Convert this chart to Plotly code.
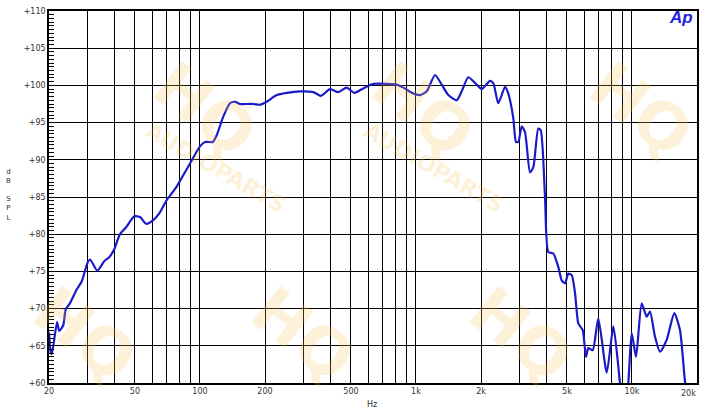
import math
import plotly.graph_objects as go

# ---- data (frequency in Hz, level in dB SPL) ----
freq_hz = [20.0, 20.4, 20.6, 21.8, 22.3, 23.3, 23.9, 25.0, 26.9, 28.3, 30.2, 31.0,
           33.5, 36.1, 38.0, 40.0, 42.6, 45.4, 49.7, 52.8, 56.3, 60.8, 64.8, 70.2,
           78.0, 89.9, 100, 105.5, 114.6, 119.5, 128.2, 137.7, 145.2, 153.2, 161.6,
           176.6, 189.6, 203.7, 226.6, 252.1, 290.4, 334.7, 363.3, 399.9, 437.1,
           477.8, 518.2, 570.3, 634.5, 732, 814, 874, 972, 1044, 1121, 1225, 1316,
           1412, 1544, 1628, 1747, 1910, 2015, 2202, 2280, 2405, 2584, 2676, 2822,
           2904, 2977, 3087, 3198, 3373, 3494, 3684, 3779, 3957, 4099, 4322, 4559,
           4727, 4897, 5073, 5260, 5449, 5645, 5914, 6126, 6280, 6578, 6984, 7640,
           8198, 8646, 8804, 9088, 9484, 9616, 9970, 10438, 11092, 11698, 12120,
           12784, 13484, 14478, 15704, 16686, 17598, 18562]
spl_db = [66.8, 64.0, 63.9, 68.2, 67.0, 67.8, 69.9, 70.7, 72.6, 73.6, 76.2, 76.6,
          75.1, 76.4, 76.9, 77.9, 80.0, 80.9, 82.4, 82.3, 81.4, 81.9, 82.8, 84.6,
          86.4, 89.5, 91.8, 92.4, 92.4, 93.3, 95.8, 97.6, 97.8, 97.5, 97.5,
          97.5, 97.4, 97.8, 98.7, 99.0, 99.2, 99.1, 98.6, 99.5, 99.1,
          99.7, 99.0, 99.6, 100.2, 100.2, 100.1, 99.7, 98.9, 98.7, 99.2, 101.4, 100.1,
          98.7, 98.0, 99.2, 101.1, 100.1, 99.5, 100.6, 100.3, 97.6, 99.8, 98.9, 95.6,
          92.4, 92.4, 94.5, 93.7, 88.3, 89.0, 94.2, 94.0, 85.0, 77.6, 77.4, 75.6,
          73.8, 73.4, 74.7, 74.5, 72.1, 68.0, 67.1, 63.5, 64.7, 64.4, 68.7, 61.4,
          67.6, 62.2, 60.0, 58.5, 59.0, 60.0, 66.7, 63.5, 70.7, 68.9, 69.6,
          66.2, 64.2, 65.8, 69.4, 67.1, 60.2, 56.0]

x_label_map = {20: "20", 50: "50", 100: "100", 200: "200", 500: "500",
               1000: "1k", 2000: "2k", 5000: "5k", 10000: "10k"}
y_ticks = list(range(60, 111, 5))
y_labels = ["+%d" % v for v in y_ticks]

x_grid = []
for dec in [10, 100, 1000, 10000]:
    for m in range(1, 10):
        v = m * dec
        if 20 <= v <= 20000:
            x_grid.append(v)
x_text = [x_label_map.get(v, "") for v in x_grid]

W, H = 708, 415
L, R, T, B = 49, 11, 11, 32
PW, PH = W - L - R, H - T - B


def px(x):
    return (x - L) / PW


def py(y):
    return (H - B - y) / PH


fig = go.Figure()
fig.add_trace(go.Scatter(x=freq_hz, y=spl_db, mode="lines",
                         line=dict(color="#1a1ac8", width=2.2, shape="spline", smoothing=0.6),
                         hoverinfo="skip", showlegend=False))

tick_font = dict(family="DejaVu Sans", size=8, color="#333333")

# faint watermark text
wm_color = "rgba(250,190,80,0.22)"
hq_centers = [(205, 110), (423, 110), (641, 110), (85, 335), (303, 335), (521, 335)]
annotations = []
for i, (cx, cy) in enumerate(hq_centers):
    annotations.append(dict(x=px(cx), y=py(cy), xref="paper", yref="paper",
                            xanchor="center", yanchor="middle",
                            text="<b>HQ</b>", showarrow=False, textangle=38,
                            font=dict(family="DejaVu Sans", size=64, color=wm_color)))
    if i < 2:
        annotations.append(dict(x=px(cx + 10), y=py(cy + 58), xref="paper", yref="paper",
                                xanchor="center", yanchor="middle",
                                text="<b>AUDIOPARTS</b>", showarrow=False, textangle=30,
                                font=dict(family="DejaVu Sans", size=22, color=wm_color)))

annotations += [
    dict(x=px(688), y=py(393), xref="paper", yref="paper", text="20k",
         xanchor="center", yanchor="middle", showarrow=False, font=tick_font),
    dict(x=px(372), y=py(404), xref="paper", yref="paper", text="Hz",
         xanchor="center", yanchor="middle", showarrow=False, font=tick_font),
    dict(x=px(8), y=py(195), xref="paper", yref="paper",
         xanchor="center", yanchor="middle",
         text="d<br>B<br><br>S<br>P<br>L", showarrow=False,
         font=dict(family="DejaVu Sans", size=7, color="#333333")),
    dict(x=px(681), y=py(18), xref="paper", yref="paper",
         xanchor="center", yanchor="middle",
         text="<b><i>Ap</i></b>", showarrow=False,
         font=dict(family="Liberation Sans", size=17, color="#2222dd")),
]

fig.update_layout(
    width=W, height=H,
    margin=dict(l=L, r=R, t=T, b=B, autoexpand=False),
    paper_bgcolor="white", plot_bgcolor="white",
    annotations=annotations,
    xaxis=dict(type="log", range=[math.log10(20), math.log10(20000)],
               tickvals=x_grid, ticktext=x_text, tickangle=0, automargin=False,
               showgrid=True, gridcolor="black", gridwidth=1,
               showline=True, linecolor="black", linewidth=1.5, mirror=True,
               ticks="", tickfont=tick_font, zeroline=False),
    yaxis=dict(range=[60, 110], tickvals=y_ticks, ticktext=y_labels, automargin=False,
               showgrid=True, gridcolor="black", gridwidth=1,
               showline=True, linecolor="black", linewidth=1.5, mirror=True,
               ticks="inside", ticklen=6, tickcolor="black",
               minor=dict(dtick=0.5, ticks="inside", ticklen=5, tickcolor="black",
                          tickwidth=1, showgrid=False),
               tickfont=tick_font, zeroline=False),
)

fig.write_html("out.html", config={"displayModeBar": False},
               post_script="document.body.style.margin='0px';")
